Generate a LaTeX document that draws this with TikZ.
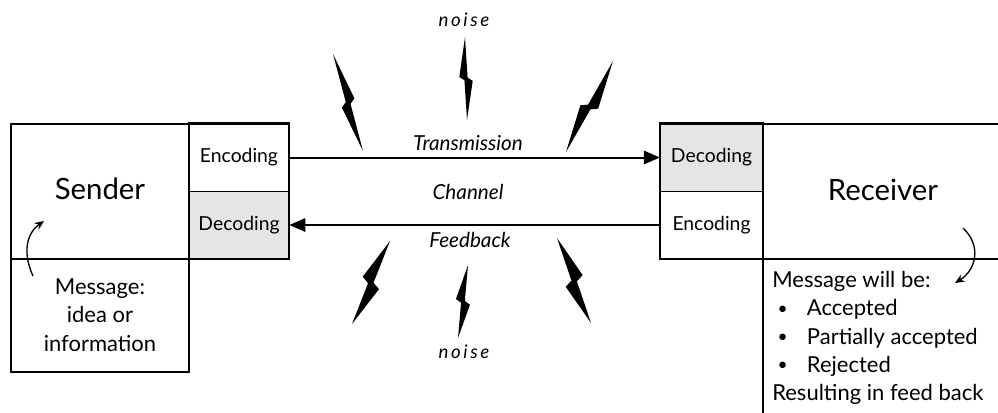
\documentclass[tikz,border=0pt]{standalone}
\usepackage{fontspec}
\setmainfont{Lato}
\usetikzlibrary{calc,arrows.meta}

% lightning bolt from top tip #1 to bottom tip #2, outer and inner half widths #3, #4
\newcommand{\bolt}[4]{%
  \fill ($(#1)$) -- ($(#1)!0.48!(#2)!#3!90:(#2)$) -- ($(#1)!0.52!(#2)!#4!90:(#2)$)
    -- ($(#2)$) -- ($(#1)!0.53!(#2)!#3!-90:(#2)$) -- ($(#1)!0.49!(#2)!#4!-90:(#2)$) -- cycle;}
\newcommand{\itembullet}{\makebox[26pt][l]{\hspace{4pt}\raisebox{1.2pt}{\fontsize{13}{13}\selectfont\textbullet}}}

\tikzset{
  outer/.style={line width=1.8pt},
  divider/.style={line width=0.8pt},
  cell/.style={minimum width=75pt,minimum height=50.6pt,inner sep=0pt,font=\fontsize{14.5}{17}\selectfont},
  bigtext/.style={font=\fontsize{22}{26}\selectfont},
  msgtext/.style={align=center,inner sep=0pt,font=\fontsize{16.5}{21.2}\selectfont},
  chan/.style={font=\itshape\fontsize{15.5}{18}\selectfont},
  noisetext/.style={font=\itshape\fontsize{14}{16}\selectfont\addfontfeatures{LetterSpace=14}},
  mainarrow/.style={line width=1.5pt,-{Triangle[length=12pt,width=10pt]}},
  curl/.style={line width=1pt,-{Stealth[length=7pt,width=6pt]}}
}

\begin{document}
\begin{tikzpicture}[x=0.75pt,y=-0.75pt]
  \useasboundingbox (0,0) rectangle (998,412);

  % sender side
  \node[cell] (senc) at (239,157.5) {Encoding};
  \node[cell,fill=gray!20] (sdec) at (239,225) {Decoding};
  \draw[divider] (senc.south west) -- (senc.south east);
  \draw[outer] (senc.north west) rectangle (sdec.south east);
  \draw[outer] (11,124) rectangle (189,372);
  \draw[divider] (11,259) -- (189,259);
  \node[bigtext] (sendname) at (100,189) {Sender};
  \node[msgtext] (sendmsg) at (100,315) {Message:\\idea or\\information};
  \draw[curl] (33,276) .. controls (22,252) and (27,233) .. (44,221);

  % receiver side
  \node[cell,minimum width=77pt,fill=gray!20] (rdec) at (711.5,157.5) {Decoding};
  \node[cell,minimum width=77pt] (renc) at (711.5,225) {Encoding};
  \draw[divider] (rdec.south west) -- (rdec.south east);
  \draw[outer] (rdec.north west) rectangle (renc.south east);
  \draw[outer] (763,124) rectangle (1030,450);
  \draw[divider] (763,259) -- (1030,259);
  \node[bigtext] (recvname) at (883,190) {Receiver};
  \node[msgtext,align=left,anchor=north west] (recvmsg) at (772,271)
    {Message will be:\\
     \itembullet Accepted\\
     \itembullet Partially accepted\\
     \itembullet Rejected\\
     Resulting in feed back};
  \draw[curl] (963,228) .. controls (982,246) and (976,270) .. (955,283);

  % channel
  \draw[mainarrow] (senc.east) -- (rdec.west);
  \draw[mainarrow] (renc.west) -- (sdec.east);
  \node[chan] (trans) at (468,143) {Transmission};
  \node[chan] (channel) at (468,192) {Channel};
  \node[chan] (feedb) at (470,240) {Feedback};
  \node[noisetext] (noisetop) at (464,20) {noise};
  \node[noisetext] (noisebot) at (464,352) {noise};

  % noise bolts
  \bolt{333,54}{363,151}{5.5pt}{1.5pt}
  \bolt{465,37}{467,120}{-5pt}{-1.2pt}
  \bolt{613,61}{566,152}{6.5pt}{1.6pt}
  \bolt{390,241}{352,324}{-7.5pt}{-1.8pt}
  \bolt{468,265}{458,338}{-5.5pt}{-1.3pt}
  \bolt{557,238}{591,323}{7.5pt}{1.8pt}
\end{tikzpicture}
\end{document}
